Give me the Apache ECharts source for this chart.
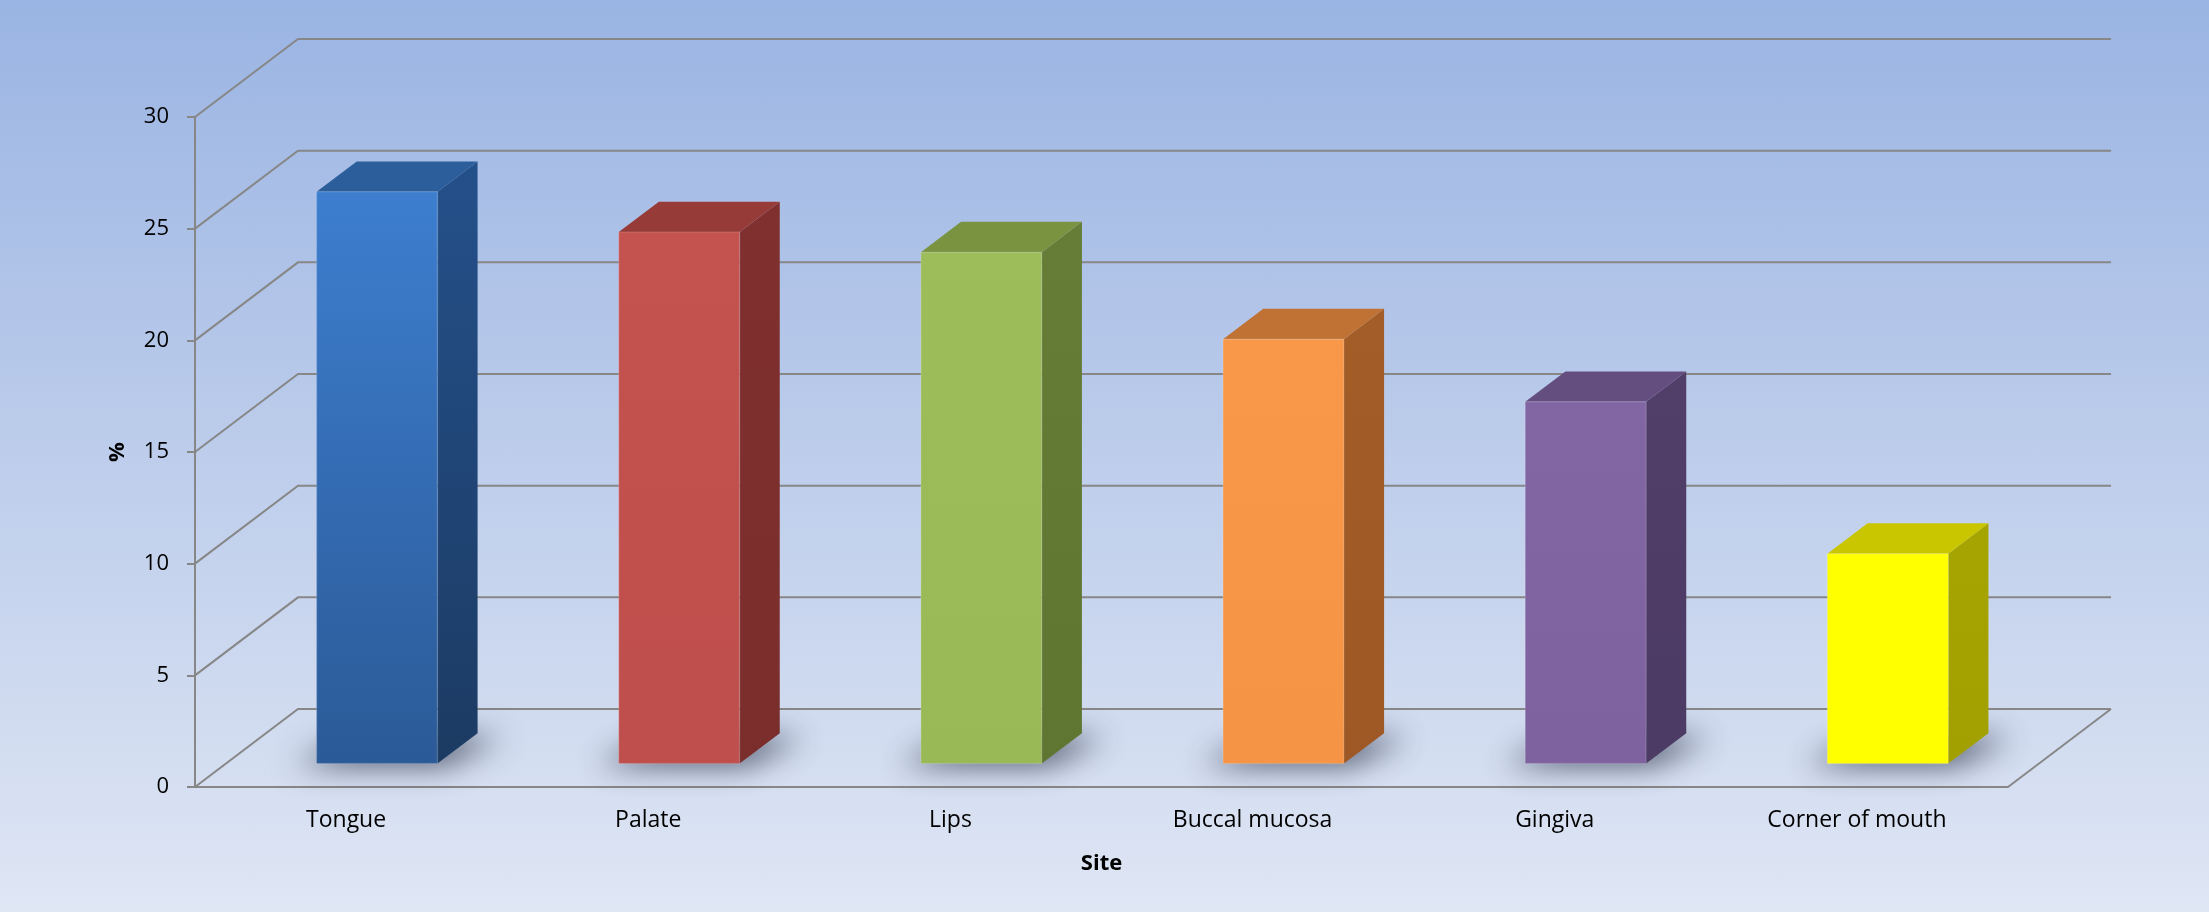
<!DOCTYPE html>
<html>
<head>
<meta charset="utf-8">
<script src="https://cdn.jsdelivr.net/npm/echarts@6/dist/echarts.min.js"></script>
<style>
  html, body { margin: 0; padding: 0; }
  #chart { width: 2209px; height: 912px; background: linear-gradient(to bottom, #9ab4e3 0%, #bdcdeb 50%, #dfe6f4 100%); }
</style>
</head>
<body>
<div id="chart"></div>
<script>
// ---- data ----
const categories = ['Tongue', 'Palate', 'Lips', 'Buccal mucosa', 'Gingiva', 'Corner of mouth'];
const values = [25.6, 23.8, 22.9, 19.0, 16.2, 9.4];
const yTicks = [0, 5, 10, 15, 20, 25, 30];
const yAxisName = '%';
const xAxisName = 'Site';

// ---- style ----
const FONT = "'Open Sans', 'Noto Sans', sans-serif";
const GRID_COLOR = '#878787';
const DX = 103, DY = -78;          // oblique depth projection of the floor
const F0 = 0.30, F1 = 0.69;        // bar depth range (fraction of floor depth)
const BAR_FRAC = 0.40;             // bar width as fraction of category band
const SHIFT = 4000;                // shadow drawn off-screen, brought back by shadowOffsetX
const barColors = [
  { front: ['#3d7ecf', '#2b5a97'], side: ['#24508a', '#1c3b63'], top: '#2b5e9b' },
  { front: ['#c4524f', '#bf4f4c'], side: ['#80302e', '#7a2e2c'], top: '#973b38' },
  { front: ['#9dbd5b', '#99b957'], side: ['#657d36', '#5f7632'], top: '#799340' },
  { front: ['#f89848', '#f69445'], side: ['#a35d27', '#9d5825'], top: '#bf7233' },
  { front: ['#8266a4', '#7e62a0'], side: ['#513e69', '#4c3b64'], top: '#644e80' },
  { front: ['#ffff00', '#ffff00'], side: ['#a6a400', '#a2a000'], top: '#c9c600' }
];

function vgrad(c0, c1) {
  return new echarts.graphic.LinearGradient(0, 0, 0, 1, [
    { offset: 0, color: c0 }, { offset: 1, color: c1 }
  ]);
}

function renderWall(params, api) {
  const cs = params.coordSys;
  const v = api.value(1);
  const y = api.coord([0, v])[1];
  const x0 = cs.x, x1 = cs.x + cs.width;
  const st = { stroke: GRID_COLOR, lineWidth: 2, fill: null };
  const children = [{
    type: 'polyline',
    shape: { points: [[x0, y], [x0 + DX, y + DY], [x1 + DX, y + DY]] },
    style: st
  }];
  if (v === 0) {
    children.push({
      type: 'polyline',
      shape: { points: [[x1, y], [x1 + DX, y + DY]] },
      style: st
    });
  }
  return { type: 'group', children: children };
}

function renderBar(params, api) {
  const i = api.value(0), v = api.value(1);
  const top = api.coord([i, v]);
  const base = api.coord([i, 0]);
  const bw = api.size([1, 0])[0] * BAR_FRAC;
  const ox = F0 * DX, oy = F0 * DY;
  const ddx = (F1 - F0) * DX, ddy = (F1 - F0) * DY;
  const xl = top[0] - bw / 2 + ox, xr = top[0] + bw / 2 + ox;
  const yt = top[1] + oy, yb = base[1] + oy;
  const c = barColors[i % barColors.length];
  const sp = [
    [xl - 22, yb + 1], [xr + 6, yb + 1],
    [xr + ddx + 24, yb + ddy + 4], [xl + ddx, yb + ddy + 4]
  ].map(function (p) { return [p[0] + SHIFT, p[1]]; });
  return {
    type: 'group',
    children: [
      { // soft floor shadow
        type: 'polygon',
        shape: { points: sp },
        style: { fill: '#000', shadowBlur: 30, shadowColor: 'rgba(45,52,72,0.85)', shadowOffsetX: -SHIFT, shadowOffsetY: 0 }
      },
      { // side face
        type: 'polygon',
        shape: { points: [[xr, yt], [xr + ddx, yt + ddy], [xr + ddx, yb + ddy], [xr, yb]] },
        style: { fill: vgrad(c.side[0], c.side[1]) }
      },
      { // top face
        type: 'polygon',
        shape: { points: [[xl, yt], [xr, yt], [xr + ddx, yt + ddy], [xl + ddx, yt + ddy]] },
        style: { fill: c.top }
      },
      { // front face
        type: 'rect',
        shape: { x: xl, y: yt, width: xr - xl, height: yb - yt },
        style: { fill: vgrad(c.front[0], c.front[1]), stroke: 'rgba(255,255,255,0.12)', lineWidth: 1.5 }
      }
    ]
  };
}

const chart = echarts.init(document.getElementById('chart'), null, { renderer: 'canvas' });
chart.setOption({
  backgroundColor: 'transparent',
  animation: false,
  textStyle: { fontFamily: FONT },
  grid: { left: 195, right: 201, top: 117, bottom: 125, containLabel: false },
  xAxis: {
    type: 'category',
    data: categories,
    boundaryGap: true,
    name: xAxisName,
    nameLocation: 'middle',
    nameGap: 66,
    nameTextStyle: { fontFamily: FONT, fontSize: 22, fontWeight: 'bold', color: '#000' },
    axisLine: { show: true, lineStyle: { color: GRID_COLOR, width: 2 } },
    axisTick: { show: false },
    axisLabel: { fontFamily: FONT, fontSize: 23, color: '#000', margin: 22, interval: 0 },
    splitLine: { show: false }
  },
  yAxis: {
    type: 'value',
    min: 0,
    max: 30,
    interval: 5,
    name: yAxisName,
    nameLocation: 'middle',
    nameGap: 66,
    nameRotate: 90,
    nameTextStyle: { fontFamily: FONT, fontSize: 22, fontWeight: 'bold', color: '#000' },
    axisLine: { show: true, lineStyle: { color: GRID_COLOR, width: 2 } },
    axisTick: { show: true, length: 8, lineStyle: { color: GRID_COLOR, width: 2 } },
    axisLabel: { fontFamily: FONT, fontSize: 22, color: '#000', margin: 26 },
    splitLine: { show: false }
  },
  series: [
    {
      type: 'custom',
      name: 'walls',
      renderItem: renderWall,
      data: yTicks.map(function (t) { return [0, t]; }),
      encode: { x: 0, y: 1 },
      silent: true,
      z: 1,
      clip: false
    },
    {
      type: 'custom',
      name: 'bars',
      renderItem: renderBar,
      data: values.map(function (v, i) { return [i, v]; }),
      encode: { x: 0, y: 1 },
      z: 3,
      clip: false
    }
  ]
});
</script>
</body>
</html>
